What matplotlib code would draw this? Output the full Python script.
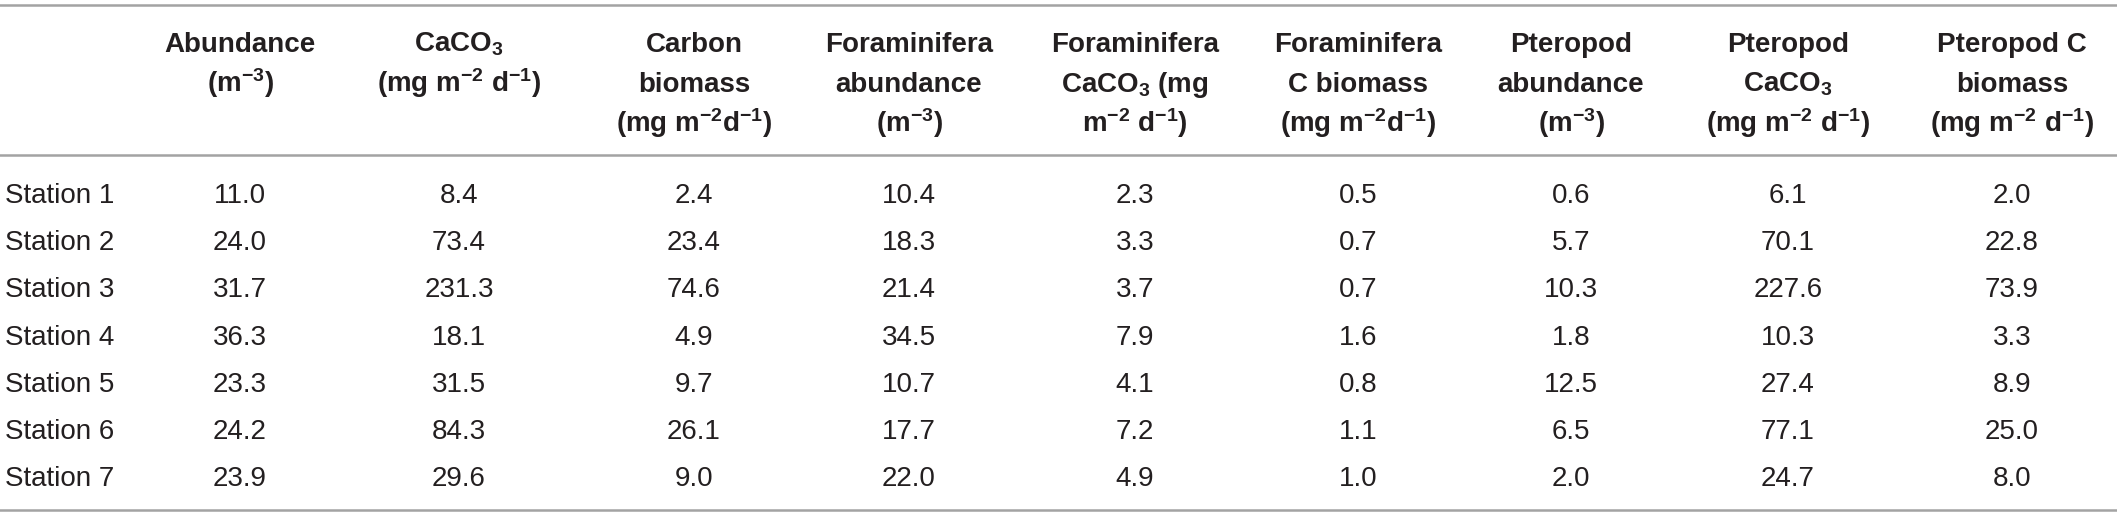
import matplotlib
matplotlib.use("Agg")
import matplotlib.pyplot as plt

stations = ["Station 1", "Station 2", "Station 3", "Station 4",
            "Station 5", "Station 6", "Station 7"]

headers = [
    ["Abundance", "(m$^{-3}$)"],
    ["CaCO$_3$", "(mg m$^{-2}$ d$^{-1}$)"],
    ["Carbon", "biomass", "(mg m$^{-2}$d$^{-1}$)"],
    ["Foraminifera", "abundance", "(m$^{-3}$)"],
    ["Foraminifera", "CaCO$_3$ (mg", "m$^{-2}$ d$^{-1}$)"],
    ["Foraminifera", "C biomass", "(mg m$^{-2}$d$^{-1}$)"],
    ["Pteropod", "abundance", "(m$^{-3}$)"],
    ["Pteropod", "CaCO$_3$", "(mg m$^{-2}$ d$^{-1}$)"],
    ["Pteropod C", "biomass", "(mg m$^{-2}$ d$^{-1}$)"],
]

abundance = [11.0, 24.0, 31.7, 36.3, 23.3, 24.2, 23.9]
caco3 = [8.4, 73.4, 231.3, 18.1, 31.5, 84.3, 29.6]
carbon = [2.4, 23.4, 74.6, 4.9, 9.7, 26.1, 9.0]
foram_abund = [10.4, 18.3, 21.4, 34.5, 10.7, 17.7, 22.0]
foram_caco3 = [2.3, 3.3, 3.7, 7.9, 4.1, 7.2, 4.9]
foram_c = [0.5, 0.7, 0.7, 1.6, 0.8, 1.1, 1.0]
ptero_abund = [0.6, 5.7, 10.3, 1.8, 12.5, 6.5, 2.0]
ptero_caco3 = [6.1, 70.1, 227.6, 10.3, 27.4, 77.1, 24.7]
ptero_c = [2.0, 22.8, 73.9, 3.3, 8.9, 25.0, 8.0]

columns = [abundance, caco3, carbon, foram_abund, foram_caco3, foram_c,
           ptero_abund, ptero_caco3, ptero_c]

plt.rcParams["font.family"] = ["Liberation Sans", "DejaVu Sans"]
plt.rcParams["mathtext.default"] = "regular"

W, H = 2117, 517
fig = plt.figure(figsize=(W / 100, H / 100), dpi=100)
ax = fig.add_axes([0, 0, 1, 1])
ax.set_xlim(0, W)
ax.set_ylim(H, 0)   # pixel-like coords, y down
ax.axis("off")

col_x = [240, 459, 694, 909, 1135, 1358, 1571, 1788, 2012]
row_y0, row_dy = 203, 47.2
line_color = "#a3a3a3"
txt_color = "#231f20"

# rules
for y in (5, 155, 510):
    ax.axhline(y, color=line_color, linewidth=1.8)

# header
for x, lines in zip(col_x, headers):
    for j, s in enumerate(lines):
        ax.text(x, 52 + j * 40, s, ha="center", va="baseline", fontsize=20,
                fontweight="bold", color=txt_color)

# body
for i, st in enumerate(stations):
    y = row_y0 + i * row_dy
    ax.text(5, y, st, ha="left", va="baseline", fontsize=20, color=txt_color)
    for x, col in zip(col_x, columns):
        ax.text(x, y, f"{col[i]:.1f}", ha="center", va="baseline",
                fontsize=20, color=txt_color)

fig.savefig("out.png", dpi=100)
